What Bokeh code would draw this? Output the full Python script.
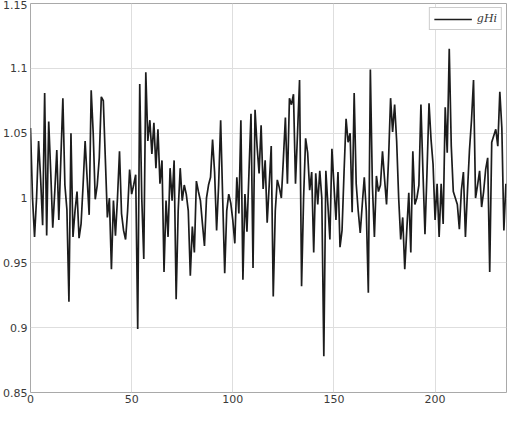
from bokeh.plotting import figure
from bokeh.models import FixedTicker, Legend, LegendItem, Range1d
from bokeh.embed import file_html
from bokeh.resources import INLINE

# ---- data ----
g_hi = [
    1.054, 1.000, 0.970, 1.000, 1.044, 1.015, 0.979, 1.081, 0.971, 1.059,
    1.020, 0.977, 1.005, 1.037, 0.983, 1.030, 1.077, 1.010, 0.991, 0.920,
    1.050, 0.970, 0.990, 1.005, 0.969, 0.980, 1.010, 1.044, 1.015, 0.987,
    1.083, 1.050, 0.999, 1.010, 1.031, 1.078, 1.075, 1.030, 0.985, 1.000,
    0.945, 0.998, 0.971, 1.000, 1.036, 0.988, 0.975, 0.968, 0.990, 1.022,
    1.003, 1.010, 1.018, 0.899, 1.088, 1.000, 0.953, 1.097, 1.044, 1.060,
    1.034, 1.058, 1.023, 1.053, 1.011, 1.029, 0.943, 0.998, 0.970, 1.023,
    0.998, 1.029, 0.922, 0.990, 1.023, 0.998, 1.010, 1.003, 0.990, 0.940,
    0.978, 0.958, 1.013, 1.005, 0.998, 0.980, 0.963, 1.000, 1.010, 1.016,
    1.045, 1.020, 0.975, 1.010, 1.060, 1.000, 0.942, 0.990, 1.003, 0.996,
    0.983, 0.965, 1.016, 0.988, 1.060, 0.937, 1.003, 0.974, 1.020, 1.065,
    0.946, 1.068, 1.040, 1.019, 1.056, 1.007, 1.029, 0.981, 1.010, 1.040,
    0.924, 0.990, 1.014, 1.008, 1.000, 1.030, 1.062, 1.011, 1.077, 1.072,
    1.080, 1.011, 1.050, 1.091, 0.932, 1.000, 1.046, 1.035, 1.006, 1.020,
    0.958, 1.019, 0.995, 1.021, 1.000, 0.878, 1.021, 0.995, 0.968, 1.038,
    1.010, 0.983, 1.020, 0.962, 0.975, 1.020, 1.061, 1.043, 1.050, 0.989,
    1.081, 1.011, 0.990, 0.973, 0.995, 1.016, 0.990, 0.927, 1.099, 1.010,
    0.970, 1.017, 1.005, 1.010, 1.036, 1.015, 0.995, 1.030, 1.077, 1.051,
    1.072, 1.044, 1.000, 0.968, 0.985, 0.945, 0.975, 1.004, 0.958, 1.036,
    0.995, 1.000, 1.010, 1.072, 1.020, 0.972, 1.020, 1.073, 1.045, 1.026,
    0.983, 1.011, 0.970, 1.011, 0.980, 1.070, 1.035, 1.115, 1.040, 1.005,
    1.000, 0.995, 0.976, 1.006, 1.020, 0.970, 1.005, 1.037, 1.060, 1.091,
    1.000, 1.010, 1.021, 0.993, 1.005, 1.022, 1.031, 0.943, 1.043, 1.048,
    1.053, 1.040, 1.082, 1.054, 0.975, 1.011,
]
sample_index = list(range(len(g_hi)))

x_ticks = [0, 50, 100, 150, 200]
x_tick_labels = ["0", "50", "100", "150", "200"]
y_ticks = [0.85, 0.9, 0.95, 1.0, 1.05, 1.1, 1.15]
y_tick_labels = ["0.85", "0.9", "0.95", "1", "1.05", "1.1", "1.15"]
series_label = "gHi"

# ---- figure ----
p = figure(
    width=508, height=405,
    output_backend="svg", toolbar_location=None,
    x_range=Range1d(0, 235.3), y_range=Range1d(0.85, 1.15),
    min_border_left=28, min_border_right=2,
    min_border_top=3, min_border_bottom=0,
)
p.background_fill_color = "white"
p.border_fill_color = "white"
p.outline_line_color = "#a9a9a9"
p.outline_line_width = 1

r = p.line(sample_index, g_hi, line_color="#1c1c1c", line_width=1.7)

for ax, ticks, labels in ((p.xaxis, x_ticks, x_tick_labels), (p.yaxis, y_ticks, y_tick_labels)):
    ax.ticker = FixedTicker(ticks=ticks)
    ax.major_label_overrides = {t: l for t, l in zip(ticks, labels)}
    ax.axis_line_color = None
    ax.major_tick_line_color = None
    ax.minor_tick_line_color = None
    ax.major_tick_out = 0
    ax.major_tick_in = 0
    ax.minor_tick_out = 0
    ax.minor_tick_in = 0
    ax.major_label_text_font = "DejaVu Sans"
    ax.major_label_text_font_size = "11px"
    ax.major_label_text_color = "#3a3a3a"
    ax.major_label_standoff = 3
p.xaxis.major_label_standoff = 2

p.xgrid.ticker = FixedTicker(ticks=x_ticks)
p.ygrid.ticker = FixedTicker(ticks=y_ticks)
for g in (p.xgrid, p.ygrid):
    g.grid_line_color = "#dedede"
    g.grid_line_width = 1

legend = Legend(
    items=[LegendItem(label=series_label, renderers=[r])],
    location="top_right",
    margin=4, padding=4, spacing=0,
    glyph_width=38, glyph_height=12, label_standoff=5,
    label_text_font="DejaVu Serif", label_text_font_style="italic",
    label_text_font_size="11px", label_text_color="#333333",
    label_height=12,
    border_line_color="#9a9a9a", border_line_width=1,
    background_fill_color="white", background_fill_alpha=1.0,
)
p.add_layout(legend)

open("out.html", "w").write(file_html(p, INLINE))
